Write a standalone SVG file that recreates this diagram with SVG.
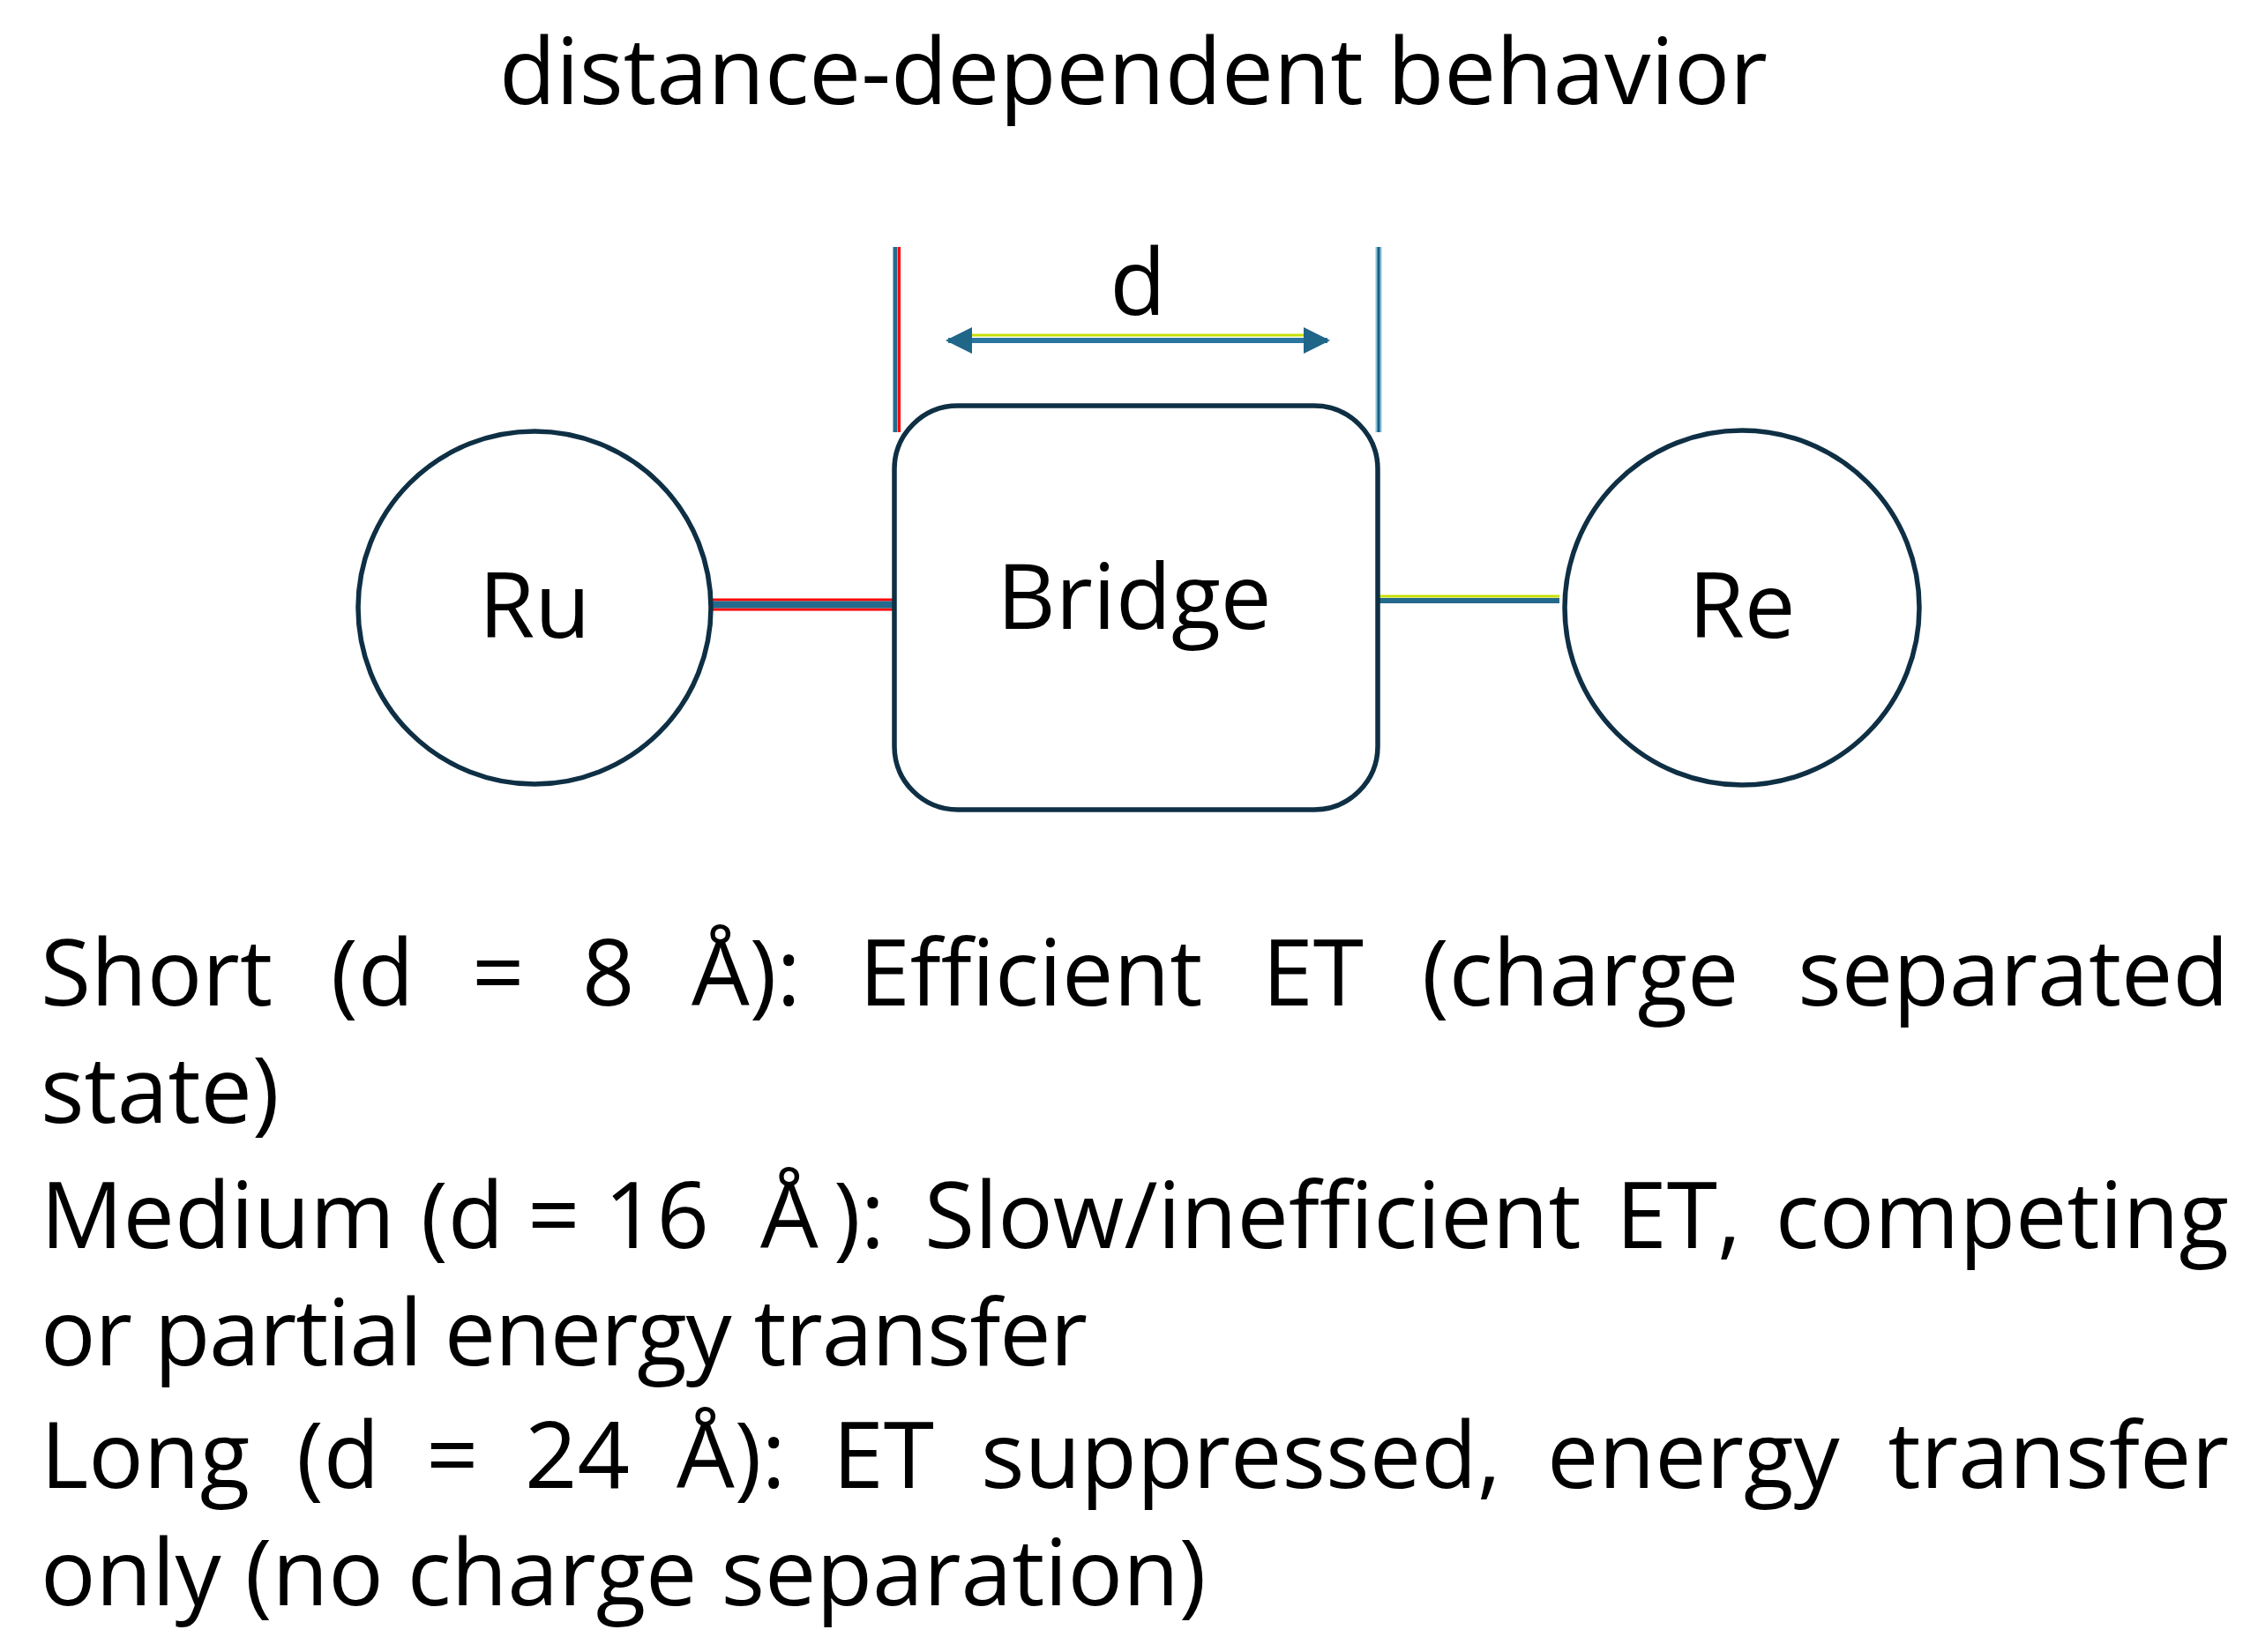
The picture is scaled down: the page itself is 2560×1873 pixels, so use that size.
<svg xmlns="http://www.w3.org/2000/svg" width="2560" height="1873" viewBox="0 0 2560 1873">
<style>
.t{font-family:"Open Sans","Liberation Sans",sans-serif;font-size:104px;fill:#000}
.title{font-size:105px}
.lbl{font-size:103px}
.node{fill:#fff;stroke:#0e2f44;stroke-width:5.5}
</style>
<defs>
<marker id="ah" viewBox="0 0 10 10" refX="9" refY="5" markerWidth="5" markerHeight="5" markerUnits="strokeWidth" orient="auto-start-reverse">
<path d="M0,0 L10,5 L0,10 z" fill="#1f6688"/>
</marker>
</defs>
<rect width="2560" height="1873" fill="#fff"/>
<text class="t title" x="1285" y="118" text-anchor="middle">distance-dependent behavior</text>

<g id="connectors">
<line x1="808" y1="680" x2="1014" y2="680" stroke="#ff0000" stroke-width="3"/>
<line x1="808" y1="691" x2="1014" y2="691" stroke="#ff0000" stroke-width="3"/>
<line x1="808" y1="685.5" x2="1014" y2="685.5" stroke="#236a8c" stroke-width="8"/>
<line x1="1562" y1="676" x2="1768" y2="676" stroke="#c8e000" stroke-width="3"/>
<line x1="1562" y1="681" x2="1768" y2="681" stroke="#236a8c" stroke-width="6"/>
</g>

<g id="dimension">
<line x1="1015" y1="280" x2="1015" y2="490" stroke="#236a8c" stroke-width="5"/>
<line x1="1019.5" y1="280" x2="1019.5" y2="490" stroke="#ff0000" stroke-width="3"/>
<line x1="1563" y1="280" x2="1563" y2="490" stroke="#8cc4e0" stroke-width="7"/>
<line x1="1563" y1="280" x2="1563" y2="490" stroke="#1f5f80" stroke-width="3"/>
<line x1="1098" y1="380" x2="1485" y2="380" stroke="#c8e000" stroke-width="3"/>
<line x1="1075" y1="386" x2="1505" y2="386" stroke="#2a76a0" stroke-width="6" marker-start="url(#ah)" marker-end="url(#ah)"/>
<text class="t" x="1290" y="357" text-anchor="middle">d</text>
</g>

<g id="node-ru">
<circle class="node" cx="606" cy="689" r="200"/>
<text class="t lbl" x="606" y="723" text-anchor="middle">Ru</text>
</g>
<g id="node-bridge">
<rect class="node" x="1014" y="460" width="548" height="458" rx="72" ry="72"/>
<text class="t lbl" x="1286" y="713" text-anchor="middle">Bridge</text>
</g>
<g id="node-re">
<circle class="node" cx="1975" cy="689" r="201"/>
<text class="t lbl" x="1975" y="723" text-anchor="middle">Re</text>
</g>

<g id="description">
<text class="t" y="1140"><tspan x="46">Short</tspan><tspan x="375">(d</tspan><tspan x="535">=</tspan><tspan x="660">8</tspan><tspan x="784">Å):</tspan><tspan x="974">Efficient</tspan><tspan x="1431">ET</tspan><tspan x="1612">(charge</tspan><tspan x="2527" text-anchor="end">separated</tspan></text>
<text class="t" x="46" y="1273">state)</text>
<text class="t" y="1415"><tspan x="46">Medium</tspan><tspan x="477">(d</tspan><tspan x="598">=</tspan><tspan x="685">16</tspan><tspan x="862">Å</tspan><tspan x="945">):</tspan><tspan x="1048">Slow/inefficient</tspan><tspan x="1832">ET,</tspan><tspan x="2527" text-anchor="end">competing</tspan></text>
<text class="t" x="46" y="1548" textLength="1187" lengthAdjust="spacing">or partial energy transfer</text>
<text class="t" y="1687"><tspan x="46">Long</tspan><tspan x="336">(d</tspan><tspan x="483">=</tspan><tspan x="595">24</tspan><tspan x="767">Å):</tspan><tspan x="944">ET</tspan><tspan x="1112">suppressed,</tspan><tspan x="1754">energy</tspan><tspan x="2527" text-anchor="end">transfer</tspan></text>
<text class="t" x="46" y="1820">only (no charge separation)</text>
</g>
</svg>
